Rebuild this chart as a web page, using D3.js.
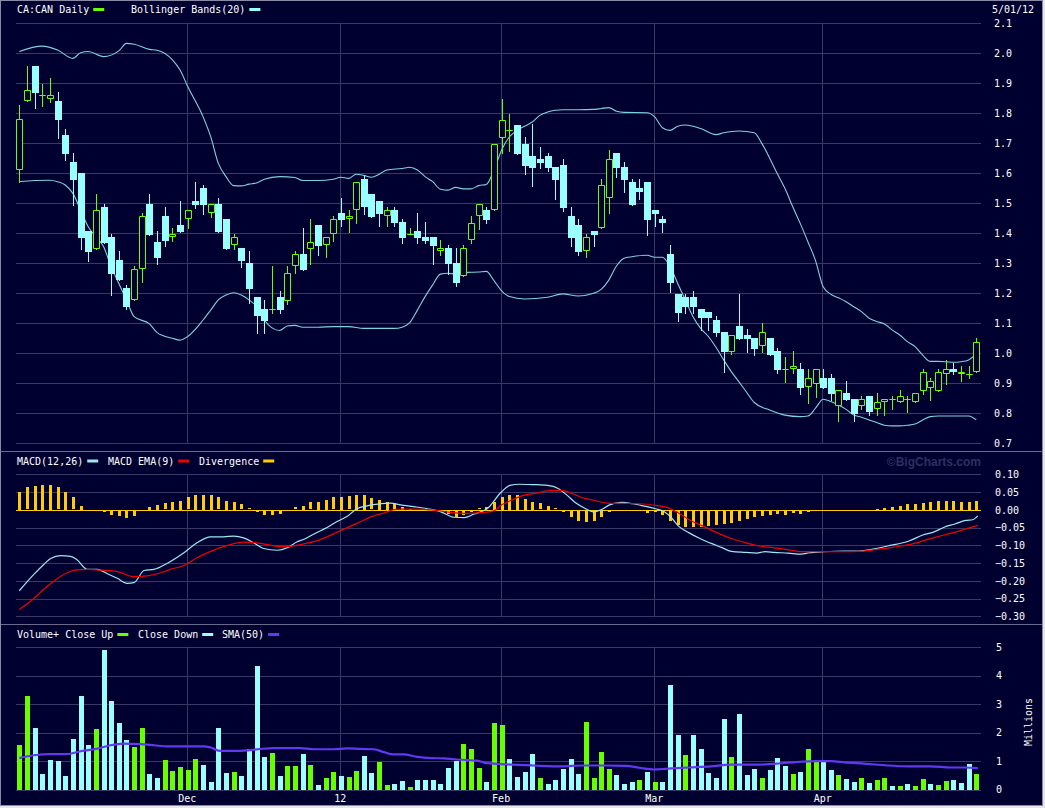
<!DOCTYPE html>
<html>
<head>
<meta charset="utf-8">
<script src="https://cdn.jsdelivr.net/npm/d3@7"></script>
<style>
  body { margin: 0; background: #e6e6e6; }
  svg { display: block; }
  text { font-family: "DejaVu Sans Mono", monospace; font-size: 10px; fill: #ffffff; }
</style>
</head>
<body>
<div id="chart"></div>
<script>
// canvas
var svgWidth = 1045;
var svgHeight = 808;
var plotLeft = 16;
var plotRight = 981;

// daily candles, CA:CAN, 11/01/11 .. 5/01/12 (126 trading days)
var opens = [1.61,1.84,1.958,1.86,1.849,1.841,1.728,1.638,1.601,1.408,
  1.349,1.488,1.388,1.311,1.218,1.177,1.28,1.498,1.371,1.458,
  1.387,1.428,1.447,1.507,1.551,1.467,1.498,1.447,1.36,1.35,
  1.3,1.188,1.148,1.146,1.188,1.176,1.29,1.331,1.349,1.428,
  1.36,1.397,1.468,1.447,1.477,1.581,1.53,1.508,1.457,1.478,
  1.438,1.398,1.408,1.388,1.388,1.34,1.35,1.3,1.257,1.377,
  1.457,1.478,1.477,1.719,1.746,1.76,1.697,1.657,1.647,1.657,
  1.621,1.628,1.458,1.428,1.34,1.408,1.417,1.517,1.667,1.62,
  1.571,1.55,1.571,1.478,1.448,1.331,1.198,1.188,1.188,1.148,
  1.138,1.111,1.071,1.006,1.091,1.061,1.051,1.026,1.051,1.008,
  0.947,0.947,0.948,0.887,0.897,0.917,0.917,0.826,0.868,0.848,
  0.826,0.857,0.816,0.837,0.847,0.837,0.847,0.837,0.876,0.886,
  0.876,0.93,0.947,0.93,0.931,0.937];
var highs = [1.828,1.958,1.958,1.898,1.918,1.871,1.748,1.667,1.601,1.408,
  1.531,1.498,1.397,1.341,1.228,1.29,1.468,1.531,1.408,1.488,
  1.417,1.507,1.477,1.57,1.561,1.497,1.517,1.447,1.397,1.35,
  1.341,1.188,1.178,1.291,1.208,1.291,1.34,1.418,1.448,1.428,
  1.387,1.458,1.518,1.478,1.57,1.591,1.53,1.508,1.488,1.488,
  1.448,1.418,1.468,1.438,1.388,1.378,1.361,1.35,1.361,1.458,
  1.497,1.488,1.697,1.849,1.799,1.76,1.721,1.766,1.687,1.667,
  1.621,1.648,1.488,1.448,1.398,1.408,1.58,1.678,1.667,1.637,
  1.58,1.58,1.571,1.478,1.458,1.36,1.198,1.198,1.208,1.148,
  1.138,1.126,1.071,1.06,1.198,1.081,1.051,1.1,1.051,1.018,
  0.988,1.008,0.968,0.948,0.947,0.948,0.931,0.877,0.908,0.848,
  0.857,0.857,0.867,0.847,0.857,0.877,0.857,0.867,0.947,0.917,
  0.947,0.978,0.968,0.957,0.958,1.052];
var lows = [1.57,1.84,1.819,1.826,1.838,1.719,1.646,1.496,1.349,1.309,
  1.349,1.368,1.196,1.246,1.147,1.177,1.237,1.396,1.299,1.359,
  1.376,1.406,1.417,1.486,1.466,1.456,1.406,1.349,1.349,1.289,
  1.167,1.069,1.069,1.136,1.136,1.166,1.267,1.279,1.299,1.329,
  1.32,1.376,1.426,1.406,1.436,1.466,1.456,1.426,1.426,1.426,
  1.369,1.398,1.369,1.369,1.299,1.329,1.266,1.226,1.257,1.369,
  1.416,1.436,1.477,1.667,1.674,1.664,1.598,1.558,1.618,1.608,
  1.516,1.476,1.358,1.329,1.32,1.358,1.417,1.467,1.589,1.539,
  1.496,1.516,1.396,1.426,1.406,1.206,1.109,1.136,1.136,1.079,
  1.079,1.059,0.937,0.997,1.049,1.006,0.996,1.006,0.996,0.936,
  0.906,0.936,0.866,0.836,0.856,0.886,0.844,0.776,0.846,0.776,
  0.816,0.796,0.796,0.796,0.816,0.837,0.806,0.837,0.866,0.846,
  0.876,0.897,0.93,0.907,0.917,0.937];
var closes = [1.78,1.877,1.869,1.86,1.86,1.779,1.666,1.579,1.386,1.339,
  1.477,1.368,1.266,1.246,1.156,1.28,1.457,1.396,1.319,1.376,
  1.397,1.406,1.477,1.496,1.496,1.497,1.406,1.349,1.387,1.309,
  1.216,1.126,1.109,1.147,1.146,1.268,1.33,1.279,1.37,1.359,
  1.387,1.447,1.446,1.458,1.57,1.487,1.456,1.466,1.477,1.436,
  1.386,1.398,1.386,1.376,1.359,1.35,1.299,1.236,1.35,1.436,
  1.497,1.446,1.697,1.779,1.746,1.664,1.624,1.618,1.634,1.618,
  1.579,1.486,1.386,1.339,1.388,1.396,1.56,1.647,1.619,1.579,
  1.496,1.539,1.446,1.466,1.436,1.236,1.136,1.156,1.156,1.119,
  1.119,1.069,1.006,1.06,1.049,1.049,1.016,1.07,0.996,0.946,
  0.947,0.957,0.886,0.917,0.947,0.886,0.866,0.877,0.846,0.797,
  0.847,0.806,0.837,0.847,0.847,0.857,0.847,0.867,0.937,0.907,
  0.937,0.947,0.937,0.937,0.931,1.037];

// volume in millions, u = close up, d = close down
var volumes = [1.57,3.29,2.17,0.55,1.04,1.01,0.48,1.78,3.29,1.57,
  2.13,4.91,3.11,2.34,1.74,1.5,2.17,0.55,0.41,1.04,
  0.66,0.8,0.69,1.08,0.87,0.27,2.17,0.59,0.62,0.48,
  1.43,4.34,1.15,1.29,0.48,0.83,0.83,1.25,0.87,0.16,
  0.41,0.62,0.48,0.44,0.66,1.18,0.59,0.97,0.16,0.2,
  0.3,0.09,0.34,0.34,0.34,0.2,0.76,1.01,1.6,1.43,
  0.76,0.27,2.34,2.26,1.08,0.44,0.62,1.25,0.41,0.2,
  0.34,0.73,1.08,0.55,2.38,0.41,1.32,0.73,0.52,0.2,
  0.27,0.34,0.62,0.27,0.27,3.68,1.92,1.22,1.92,1.43,
  0.59,0.41,2.48,1.15,2.66,0.52,0.73,0.41,0.69,1.11,
  0.83,0.55,0.62,1.43,1.04,1.04,0.69,0.52,0.37,0.27,
  0.41,0.23,0.34,0.41,0.13,0.13,0.2,0.13,0.37,0.2,
  0.16,0.3,0.34,0.23,0.9,0.55];
var volumeDir = ("uudddddddd" + "udddduuddu" + "uuuuddddud" + "ddduduudud" +
  "uuduudduud" + "dudddddduu" + "uduuddddud" + "dddduuuudd" +
  "dududddudd" + "dddudddudd" + "duduuddudd" + "uduududuud" + "uudddu").split("");

// SMA(50) of volume, [day, millions]
var volumeSma = [[0,1.11],[1.9,1.21],[4.1,1.25],[6.2,1.25],[8,1.35],[10.2,1.44],[11.9,1.56],
  [13.6,1.62],[15.8,1.6],[17.6,1.56],[19.3,1.52],[21.9,1.52],[24.1,1.52],[25,1.48],[26.3,1.36],
  [28,1.36],[29.8,1.38],[31.5,1.43],[33.2,1.46],[36.7,1.46],[38.5,1.42],[41.1,1.42],[42.8,1.45],
  [44.6,1.43],[46.3,1.42],[47.6,1.32],[48.9,1.24],[50.2,1.24],[52,1.15],[53.7,1.11],[55.5,1.1],
  [56.8,1.07],[58.5,1.04],[59.8,1.02],[61.1,0.93],[62.9,0.9],[64.3,0.88],[67.1,0.85],[70.8,0.82],
  [73.6,0.85],[76.4,0.85],[79.2,0.84],[81,0.77],[82.9,0.71],[84.7,0.74],[87.5,0.78],[90.3,0.82],
  [93,0.88],[96.7,0.88],[98.6,0.91],[101.4,0.97],[104.1,1.0],[106,1.0],[107.8,0.96],[110.6,0.91],
  [113.4,0.85],[116.2,0.82],[119,0.82],[121.7,0.78],[123.6,0.78],[125.2,0.76]];

// Bollinger Bands(20), [day, price]
var bandUpper = [[0,2.006],[3,2.024],[5,2.011],[7,1.983],[8,2.002],[9,2.006],[11,1.989],[13,2.008],
  [14,2.033],[15,2.03],[17,2.013],[18,2.01],[20,1.978],[21,1.944],[22,1.889],[24,1.789],[25,1.722],
  [26,1.633],[27,1.589],[28,1.559],[29,1.558],[30,1.564],[31,1.568],[32,1.58],[34,1.589],[36,1.586],
  [37,1.576],[39,1.576],[41,1.58],[42,1.587],[43,1.583],[44,1.597],[45,1.593],[46,1.587],[47,1.597],
  [48,1.611],[50,1.616],[51,1.62],[52,1.611],[53,1.589],[54,1.572],[55,1.547],[56,1.544],[57,1.553],
  [58,1.548],[59,1.548],[60,1.559],[61,1.563],[62,1.611],[63,1.678],[64,1.721],[65,1.743],[66,1.757],
  [67,1.771],[68,1.793],[69,1.804],[70,1.81],[71,1.812],[73,1.812],[75,1.813],[76,1.816],[77,1.819],
  [78,1.807],[79,1.803],[82,1.802],[83,1.788],[84,1.752],[85,1.743],[86,1.757],[87,1.761],[89,1.749],
  [91,1.729],[92,1.735],[94,1.741],[96,1.735],[97,1.699],[99,1.599],[100,1.55],[101,1.49],[102,1.433],
  [103,1.372],[104,1.309],[105,1.222],[106,1.197],[107,1.185],[108,1.172],[109,1.155],[110,1.139],
  [111,1.117],[112,1.106],[113,1.098],[114,1.078],[115,1.061],[116,1.039],[117,1.022],[118,0.994],
  [119,0.973],[120,0.973],[121,0.972],[122,0.97],[123,0.972],[124,0.978],[125,0.998]];
var bandLower = [[0,1.572],[2,1.576],[4,1.577],[5,1.572],[6,1.561],[7,1.533],[8,1.478],[9,1.422],
  [10,1.389],[11,1.356],[12,1.289],[13,1.233],[14,1.178],[15,1.122],[17,1.098],[18,1.069],[20,1.05],
  [21,1.044],[22,1.056],[24,1.111],[25,1.144],[26,1.178],[27,1.194],[28,1.202],[29,1.194],[30,1.178],
  [31,1.156],[32,1.111],[34,1.076],[35,1.091],[36,1.093],[37,1.087],[39,1.087],[41,1.089],[43,1.089],
  [45,1.083],[47,1.083],[49,1.083],[50,1.087],[51,1.102],[52,1.144],[53,1.189],[54,1.228],[55,1.264],
  [56,1.267],[57,1.264],[58,1.269],[59,1.27],[60,1.271],[61,1.273],[62,1.242],[63,1.208],[64,1.189],
  [66,1.181],[69,1.187],[71,1.198],[73,1.191],[75,1.2],[76,1.213],[77,1.244],[78,1.291],[79,1.317],
  [80,1.322],[82,1.327],[83,1.32],[84,1.32],[85,1.289],[86,1.233],[87,1.178],[88,1.122],[89,1.083],
  [90,1.056],[91,1.02],[92,0.978],[93,0.939],[94,0.905],[95,0.87],[96,0.836],[98,0.811],[100,0.794],
  [102,0.789],[103,0.791],[104,0.817],[105,0.847],[106,0.839],[107,0.828],[108,0.813],[109,0.794],
  [110,0.787],[111,0.778],[112,0.769],[113,0.76],[114,0.758],[115,0.758],[116,0.76],[117,0.764],
  [118,0.778],[119,0.789],[120,0.791],[122,0.791],[124,0.791],[125,0.778]];

// MACD(12,26) and its EMA(9), [day, value]
var macdLine = [[0,-0.228],[1.9,-0.182],[3.2,-0.154],[4.1,-0.137],[5.4,-0.129],[6.7,-0.131],[7.5,-0.14],
  [8.9,-0.168],[10.2,-0.168],[11.5,-0.18],[12.8,-0.193],[14.1,-0.207],[15,-0.205],[16.3,-0.171],
  [17.6,-0.168],[19.3,-0.151],[21.5,-0.121],[23.2,-0.093],[25,-0.076],[26.7,-0.076],[28,-0.074],
  [29.3,-0.079],[30.6,-0.093],[31.9,-0.109],[33.7,-0.114],[35,-0.107],[36.3,-0.09],[37.2,-0.083],
  [38.5,-0.068],[40.2,-0.05],[41.5,-0.033],[42.8,-0.019],[44.1,0.003],[45.4,0.011],[46.8,0.016],
  [48.5,0.019],[49.8,0.014],[51.5,0.009],[53.3,0.003],[55,-0.005],[56.8,-0.021],[58.1,-0.022],
  [59.4,-0.012],[61.1,0.003],[63,0.051],[64.1,0.069],[65.3,0.072],[67.1,0.071],[69,0.069],
  [70.4,0.06],[71.5,0.042],[72.7,0.019],[73.8,0.005],[75,-0.006],[75.9,-0.001],[77.1,0.014],
  [78.7,0.021],[80.1,0.017],[81.5,0.011],[83.1,0.003],[84.2,-0.005],[85.2,-0.023],[86.1,-0.046],
  [87.5,-0.065],[88.9,-0.081],[90.3,-0.094],[91.7,-0.106],[93,-0.117],[94.9,-0.12],[96.3,-0.122],
  [97.4,-0.118],[98.6,-0.12],[100.4,-0.122],[102.1,-0.125],[103.2,-0.121],[105.1,-0.118],
  [107.8,-0.116],[109.7,-0.116],[111.5,-0.111],[113.4,-0.102],[116.2,-0.088],[118,-0.071],
  [119.4,-0.063],[120.8,-0.049],[122.2,-0.04],[123.6,-0.03],[124.5,-0.028],[125.2,-0.017]];
var macdSignal = [[0,-0.281],[1.9,-0.25],[3.2,-0.224],[4.5,-0.201],[6.2,-0.178],[7.5,-0.169],[8.9,-0.168],
  [10.6,-0.17],[12.8,-0.174],[14.9,-0.188],[16.7,-0.186],[18.4,-0.178],[19.7,-0.168],[21.5,-0.157],
  [23.2,-0.135],[25,-0.117],[27.1,-0.101],[29.3,-0.091],[31.1,-0.093],[32.4,-0.098],[34.1,-0.104],
  [35.4,-0.103],[36.7,-0.098],[38.9,-0.087],[41.1,-0.067],[42.8,-0.051],[44.6,-0.033],[45.9,-0.02],
  [47.6,-0.009],[49.4,0.002],[51.5,0.002],[54.2,-0.001],[56.3,-0.007],[58.5,-0.01],[60.7,-0.007],
  [62,-0.003],[63,0.014],[64.4,0.028],[65.7,0.04],[67.6,0.047],[69.4,0.055],[70.8,0.055],[72.2,0.046],
  [73.6,0.034],[75,0.027],[76.8,0.019],[78.7,0.018],[81,0.017],[83.3,0.012],[84.7,0.006],[86.1,-0.009],
  [87.5,-0.028],[89.3,-0.046],[91.2,-0.065],[93,-0.081],[94.9,-0.093],[96.7,-0.102],[98.6,-0.107],
  [100.9,-0.114],[102.3,-0.118],[104.1,-0.118],[106,-0.118],[107.8,-0.118],[109.7,-0.117],
  [111.5,-0.113],[113.4,-0.108],[115.2,-0.102],[117.1,-0.094],[119,-0.081],[120.8,-0.071],
  [122.7,-0.06],[125.2,-0.044]];

// divergence histogram, one per day
var divergence = [0.051,0.063,0.068,0.071,0.071,0.063,0.051,0.035,0.012,0,
  0,-0.007,-0.014,-0.018,-0.023,-0.018,0,0.009,0.013,0.018,
  0.023,0.026,0.035,0.041,0.043,0.043,0.035,0.026,0.023,0.015,
  0.004,-0.006,-0.014,-0.014,-0.011,-0.003,0.007,0.012,0.021,0.023,
  0.029,0.035,0.037,0.038,0.043,0.041,0.032,0.029,0.023,0.018,
  0.009,0.003,0,0,-0.003,-0.006,-0.011,-0.019,-0.014,-0.005,
  0.004,0.007,0.023,0.037,0.043,0.041,0.031,0.023,0.018,0.012,
  0.004,-0.006,-0.02,-0.031,-0.034,-0.031,-0.02,-0.007,0,0,
  -0.004,-0.004,-0.009,-0.007,-0.014,-0.031,-0.043,-0.048,-0.048,-0.049,
  -0.045,-0.043,-0.04,-0.036,-0.031,-0.026,-0.021,-0.016,-0.013,-0.012,
  -0.013,-0.008,-0.01,-0.006,-0.001,0,0,0,0,0,
  0,0,0.003,0.006,0.009,0.012,0.016,0.016,0.02,0.023,
  0.026,0.026,0.025,0.023,0.023,0.026];

// axis ticks and month marks
var priceTicks = [2.1,2.0,1.9,1.8,1.7,1.6,1.5,1.4,1.3,1.2,1.1,1.0,0.9,0.8,0.7];
var macdTicks = [0.10,0.05,0.00,-0.05,-0.10,-0.15,-0.20,-0.25,-0.30];
var volumeTicks = [0,1,2,3,4,5];
var monthDays = [22,42,63,83,105];
var monthLabels = ["Dec","12","Feb","Mar","Apr"];

var bgColor = "#000030";
var gridColor = "#393966";
var upColor = "#66ff00";
var downColor = "#99ffff";
var bandColor = "#7fd2dc";

var candles = opens.map(function(o, i) {
    return {day: i, open: o, high: highs[i], low: lows[i], close: closes[i]};
});

function crisp(v) { return Math.round(v) + 0.5; }

var svg = d3.select("#chart")
    .append("svg")
    .attr("width", svgWidth)
    .attr("height", svgHeight);

// frame
svg.append("rect")
    .attr("x", 0.5).attr("y", 0.5)
    .attr("width", 1042).attr("height", 805)
    .attr("fill", bgColor)
    .attr("stroke", "#8a8aa6");

svg.selectAll("line.sep")
    .data([451.5, 624.5])
    .enter()
    .append("line")
    .attr("x1", 1).attr("x2", 1042)
    .attr("y1", d => d).attr("y2", d => d)
    .attr("stroke", "#6a6a8c");

// scales
var x = d3.scaleLinear().domain([0, 125]).range([19.3, 976.3]);
var yPrice = d3.scaleLinear().domain([0.7, 2.1]).range([443.3, 23.3]);
var yMacd = d3.scaleLinear().domain([-0.30, 0.10]).range([616.3, 474.3]);
var yVol = d3.scaleLinear().domain([0, 5]).range([789.7, 647.3]);

// grid for one panel
function drawGrid(yScale, ticks) {
    var g = svg.append("g");
    g.selectAll("line.h")
        .data(ticks)
        .enter()
        .append("line")
        .attr("x1", plotLeft).attr("x2", plotRight)
        .attr("y1", d => crisp(yScale(d))).attr("y2", d => crisp(yScale(d)))
        .attr("stroke", gridColor);
    var top = crisp(yScale(d3.max(ticks)));
    var bottom = crisp(yScale(d3.min(ticks)));
    g.selectAll("line.v")
        .data(monthDays)
        .enter()
        .append("line")
        .attr("x1", d => crisp(x(d) - 1)).attr("x2", d => crisp(x(d) - 1))
        .attr("y1", top).attr("y2", bottom)
        .attr("stroke", gridColor);
}

function drawRightAxis(yScale, ticks, fmt, left) {
    var axis = d3.axisRight(yScale)
        .tickValues(ticks)
        .tickSize(0)
        .tickPadding(0)
        .tickFormat(fmt);
    var g = svg.append("g")
        .attr("transform", `translate(${left}, 0)`)
        .call(axis);
    g.select(".domain").remove();
    g.selectAll("text")
        .attr("fill", "#ffffff")
        .style("font-family", "DejaVu Sans Mono, monospace")
        .style("font-size", "10px");
}

drawGrid(yPrice, priceTicks);
drawGrid(yMacd, macdTicks);
drawGrid(yVol, volumeTicks);

drawRightAxis(yPrice, priceTicks, d3.format(".1f"), 994);
drawRightAxis(yMacd, macdTicks, d3.format(".2f"), 995);
drawRightAxis(yVol, volumeTicks, d3.format("d"), 996);

// ---------- price panel ----------
var bandLine = d3.line()
    .x(d => x(d[0]))
    .y(d => yPrice(d[1]))
    .curve(d3.curveMonotoneX);

svg.selectAll("path.band")
    .data([bandUpper, bandLower])
    .enter()
    .append("path")
    .attr("d", bandLine)
    .attr("fill", "none")
    .attr("stroke", bandColor)
    .attr("stroke-width", 1.1);

var candleGroup = svg.append("g");

// wicks first, hollow bodies cover them
candleGroup.selectAll("line.wick")
    .data(candles)
    .enter()
    .append("line")
    .attr("x1", d => crisp(x(d.day))).attr("x2", d => crisp(x(d.day)))
    .attr("y1", d => Math.round(yPrice(d.high)))
    .attr("y2", d => Math.round(yPrice(d.low)) + 1)
    .attr("stroke", d => d.close >= d.open ? upColor : downColor);

candleGroup.selectAll("path.body")
    .data(candles)
    .enter()
    .append("path")
    .attr("d", function(d) {
        var cx = crisp(x(d.day));
        var top = Math.round(yPrice(Math.max(d.open, d.close)));
        var bot = Math.round(yPrice(Math.min(d.open, d.close)));
        if (d.close >= d.open) {
            var h = Math.max(bot - top - 1, 0);
            return `M${cx - 3},${top + 0.5}h6v${h}h-6Z`;
        }
        return `M${cx - 3.5},${top}h7v${Math.max(bot - top, 1)}h-7Z`;
    })
    .attr("fill", d => d.close >= d.open ? bgColor : downColor)
    .attr("stroke", d => d.close >= d.open ? upColor : "none");

// ---------- MACD panel ----------
svg.append("line")
    .attr("x1", plotLeft).attr("x2", plotRight)
    .attr("y1", crisp(yMacd(0))).attr("y2", crisp(yMacd(0)))
    .attr("stroke", "#ffcc00");

svg.selectAll("rect.div")
    .data(divergence)
    .enter()
    .append("rect")
    .attr("x", (d, i) => Math.round(x(i)) - 1)
    .attr("width", 3)
    .attr("y", d => Math.round(Math.min(yMacd(d), yMacd(0))))
    .attr("height", d => Math.round(Math.abs(yMacd(d) - yMacd(0))))
    .attr("fill", "#ffcc00");

var macdPath = d3.line()
    .x(d => x(d[0]))
    .y(d => yMacd(d[1]))
    .curve(d3.curveMonotoneX);

svg.append("path")
    .attr("d", macdPath(macdLine))
    .attr("fill", "none")
    .attr("stroke", "#9ee8f2")
    .attr("stroke-width", 1.2);

svg.append("path")
    .attr("d", macdPath(macdSignal))
    .attr("fill", "none")
    .attr("stroke", "#ee0000")
    .attr("stroke-width", 1.2);

svg.append("text")
    .attr("x", plotRight)
    .attr("y", 466)
    .attr("text-anchor", "end")
    .style("font-family", "Liberation Sans, Arial, sans-serif")
    .style("font-weight", "bold")
    .style("font-size", "12px")
    .style("fill", "#2c3062")
    .text("\u00a9BigCharts.com");

// ---------- volume panel ----------
svg.selectAll("rect.vol")
    .data(volumes)
    .enter()
    .append("rect")
    .attr("x", (d, i) => Math.round(x(i)) - 2)
    .attr("width", 5)
    .attr("y", d => Math.round(yVol(d)))
    .attr("height", d => Math.round(yVol(0)) - Math.round(yVol(d)))
    .attr("fill", (d, i) => volumeDir[i] === "u" ? upColor : downColor);

svg.append("path")
    .attr("d", d3.line()
        .x(d => x(d[0]))
        .y(d => yVol(d[1]))
        .curve(d3.curveMonotoneX)(volumeSma))
    .attr("fill", "none")
    .attr("stroke", "#6238f0")
    .attr("stroke-width", 2.2);

// month labels under the volume panel
var monthAxis = d3.axisBottom(x)
    .tickValues(monthDays)
    .tickSize(0)
    .tickPadding(3)
    .tickFormat((d, k) => monthLabels[k]);
var monthG = svg.append("g")
    .attr("transform", "translate(-1, 792)")
    .call(monthAxis);
monthG.select(".domain").remove();
monthG.selectAll("text")
    .attr("fill", "#ffffff")
    .style("font-family", "DejaVu Sans Mono, monospace")
    .style("font-size", "10px");

svg.append("text")
    .attr("transform", "translate(1032, 722) rotate(-90)")
    .attr("text-anchor", "middle")
    .text("Millions");

// ---------- legends ----------
function legend(y, items) {
    items.forEach(function(it) {
        svg.append("text")
            .attr("x", it.x)
            .attr("y", y + 3.5)
            .text(it.label);
        svg.append("rect")
            .attr("x", it.x + it.label.length * 6.02 + 4)
            .attr("y", y - 1.5)
            .attr("width", 11)
            .attr("height", 3)
            .attr("fill", it.color);
    });
}

legend(9.5, [
    {x: 17, label: "CA:CAN Daily", color: upColor},
    {x: 131, label: "Bollinger Bands(20)", color: downColor}
]);
legend(461, [
    {x: 17, label: "MACD(12,26)", color: "#9ee8f2"},
    {x: 108, label: "MACD EMA(9)", color: "#ee0000"},
    {x: 199, label: "Divergence", color: "#ffcc00"}
]);
legend(634.5, [
    {x: 17, label: "Volume+ Close Up", color: upColor},
    {x: 138, label: "Close Down", color: downColor},
    {x: 222, label: "SMA(50)", color: "#6238f0"}
]);

svg.append("text")
    .attr("x", 992)
    .attr("y", 13)
    .text("5/01/12");
</script>
</body>
</html>
